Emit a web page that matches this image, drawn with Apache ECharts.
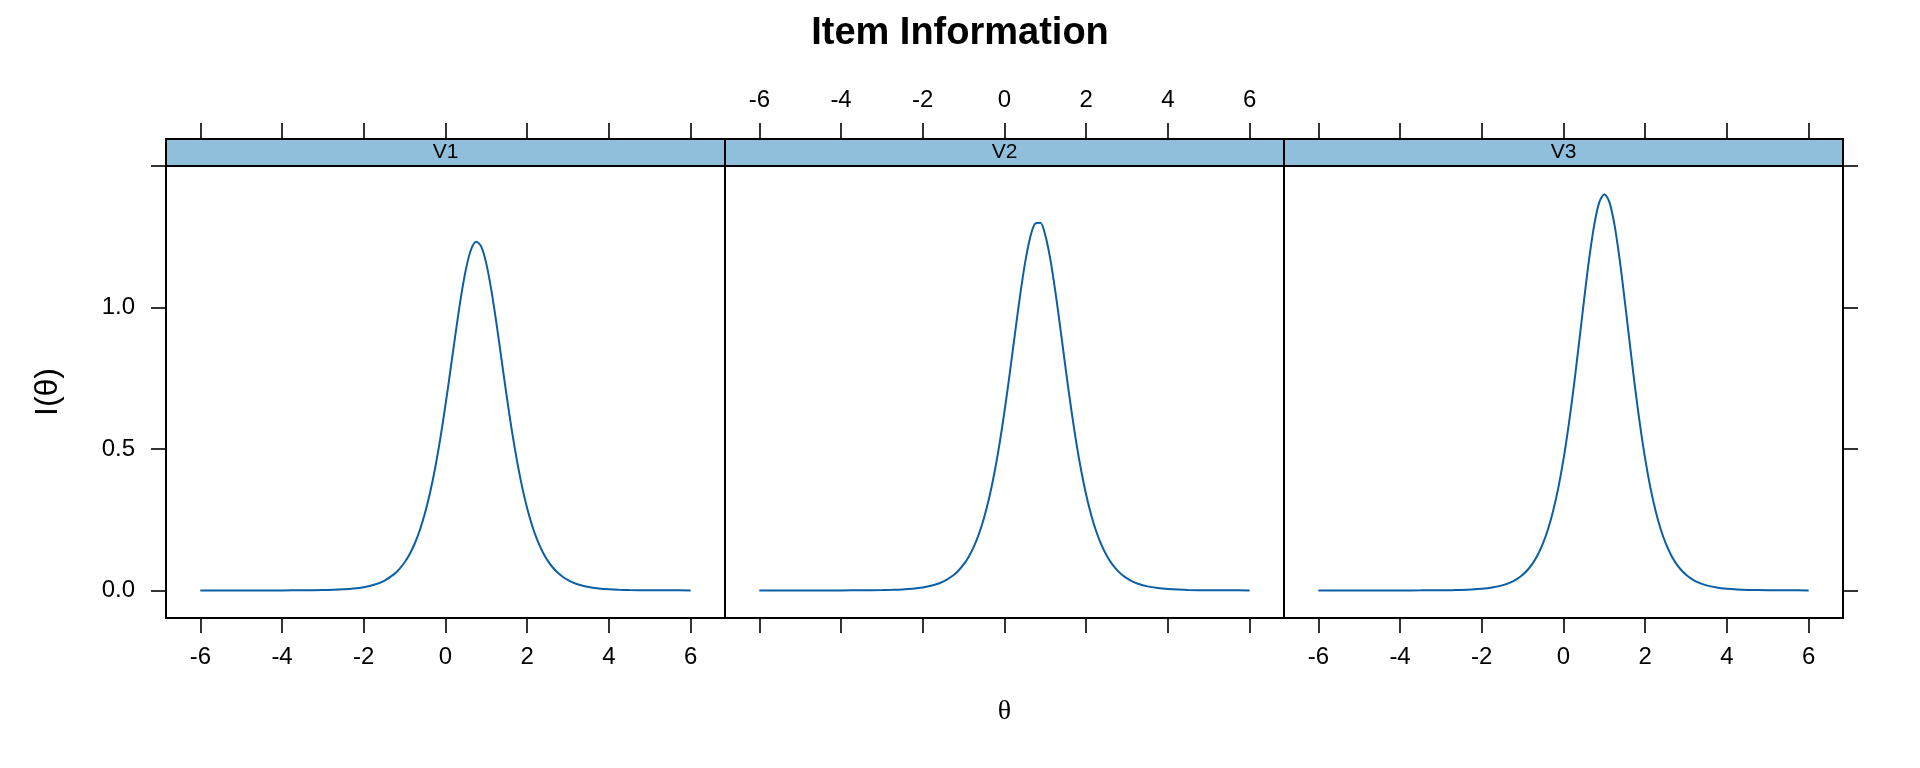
<!DOCTYPE html>
<html>
<head>
<meta charset="utf-8">
<script src="https://cdn.jsdelivr.net/npm/echarts@6/dist/echarts.min.js"></script>
<style>
  html, body { margin: 0; padding: 0; background: #fff; }
  #item-info { width: 1920px; height: 768px; }
</style>
</head>
<body>
<div id="item-info"></div>
<script>
// theta grid (shared by all three items), denser around the peaks
var theta = [-6, -5, -4, -3.5, -3, -2.75, -2.5, -2.25, -2, -1.75, -1.5, -1.25,
  -1.125, -1, -0.875, -0.75, -0.625, -0.5, -0.375, -0.25, -0.125, 0, 0.125, 0.25, 0.375, 0.5, 0.625, 0.75, 0.875,
  1, 1.125, 1.25, 1.375, 1.5, 1.625, 1.75, 1.875, 2, 2.125, 2.25, 2.375, 2.5, 2.625, 2.75, 2.875, 3, 3.125,
  3.25, 3.5, 3.75, 4, 4.25, 4.5, 5, 5.5, 6]

// item information
var infoV1 = [0.0000, 0.0000, 0.0001, 0.0004, 0.0013, 0.0022, 0.0039, 0.0067, 0.0115, 0.0199, 0.0341, 0.0584,
  0.0763, 0.0994, 0.1290, 0.1667, 0.2145, 0.2741, 0.3475, 0.4355, 0.5391, 0.6563, 0.7831, 0.9122, 1.0338, 1.1355, 1.2049, 1.2327, 1.2150,
  1.1541, 1.0586, 0.9406, 0.8120, 0.6838, 0.5640, 0.4578, 0.3658, 0.2891, 0.2267, 0.1766, 0.1367, 0.1054, 0.0810, 0.0621, 0.0475, 0.0363, 0.0277,
  0.0211, 0.0123, 0.0071, 0.0041, 0.0024, 0.0014, 0.0005, 0.0002, 0.0001]
var infoV2 = [0.0000, 0.0000, 0.0001, 0.0004, 0.0012, 0.0020, 0.0035, 0.0061, 0.0105, 0.0181, 0.0313, 0.0537,
  0.0703, 0.0918, 0.1194, 0.1550, 0.2001, 0.2570, 0.3274, 0.4133, 0.5154, 0.6332, 0.7637, 0.9009, 1.0354, 1.1549, 1.2458, 1.2963, 1.2992,
  1.2542, 1.1676, 1.0508, 0.9174, 0.7799, 0.6482, 0.5287, 0.4246, 0.3369, 0.2646, 0.2063, 0.1598, 0.1233, 0.0948, 0.0726, 0.0555, 0.0424, 0.0323,
  0.0246, 0.0143, 0.0083, 0.0048, 0.0028, 0.0016, 0.0005, 0.0002, 0.0001]
var infoV3 = [0.0000, 0.0000, 0.0001, 0.0002, 0.0006, 0.0010, 0.0018, 0.0032, 0.0056, 0.0100, 0.0177, 0.0313,
  0.0416, 0.0552, 0.0730, 0.0965, 0.1272, 0.1670, 0.2182, 0.2831, 0.3643, 0.4638, 0.5824, 0.7188, 0.8686, 1.0229, 1.1688, 1.2904, 1.3715,
  1.4000, 1.3715, 1.2904, 1.1688, 1.0229, 0.8686, 0.7188, 0.5824, 0.4638, 0.3643, 0.2831, 0.2182, 0.1670, 0.1272, 0.0965, 0.0730, 0.0552, 0.0416,
  0.0313, 0.0177, 0.0100, 0.0056, 0.0032, 0.0018, 0.0006, 0.0002, 0.0001]

var panelNames = ['V1', 'V2', 'V3']
var xTicks = [-6, -4, -2, 0, 2, 4, 6]
var yTicks = [0, 0.5, 1, 1.5]
var yLabels = [0, 0.5, 1]

var items = [infoV1, infoV2, infoV3]

var FONT = 'Liberation Sans'
var panelLeft = 166
var panelWidth = 559
var panelTop = 166
var panelHeight = 452
var stripHeight = 27

var chart = echarts.init(document.getElementById('item-info'))

var grids = []
var xAxes = []
var yAxes = []
var series = []
var strips = []

panelNames.forEach(function (name, i) {
  var left = panelLeft + panelWidth * i
  grids.push({
    left: left,
    top: panelTop,
    width: panelWidth,
    height: panelHeight,
    show: true,
    borderColor: '#000',
    borderWidth: 2,
    backgroundColor: 'transparent'
  })
  // bottom axis: labels on panels 1 and 3 (lattice alternation)
  xAxes.push({
    gridIndex: i,
    type: 'value',
    min: -6.84,
    max: 6.84,
    position: 'bottom',
    axisLine: { show: false, onZero: false },
    splitLine: { show: false },
    axisTick: {
      show: true,
      length: 15,
      customValues: xTicks,
      lineStyle: { color: '#000', width: 1.6 }
    },
    axisLabel: {
      show: i !== 1,
      customValues: xTicks,
      margin: 27,
      color: '#000',
      fontFamily: FONT,
      fontSize: 24
    },
    name: i === 1 ? 'θ' : '',
    nameLocation: 'middle',
    nameGap: 80,
    nameTextStyle: { color: '#000', fontFamily: 'Liberation Serif', fontSize: 28 }
  })
  // top axis sits above the strip; labels only on the middle panel
  xAxes.push({
    gridIndex: i,
    type: 'value',
    min: -6.84,
    max: 6.84,
    position: 'top',
    offset: stripHeight,
    axisLine: { show: false, onZero: false },
    splitLine: { show: false },
    axisTick: {
      show: true,
      length: 16,
      customValues: xTicks,
      lineStyle: { color: '#000', width: 1.6 }
    },
    axisLabel: {
      show: i === 1,
      customValues: xTicks,
      margin: 27,
      color: '#000',
      fontFamily: FONT,
      fontSize: 24
    }
  })
  yAxes.push({
    gridIndex: i,
    type: 'value',
    min: -0.0975,
    max: 1.5,
    position: i === 2 ? 'right' : 'left',
    axisLine: { show: false, onZero: false },
    splitLine: { show: false },
    axisTick: {
      show: i !== 1,
      length: 15,
      customValues: yTicks,
      lineStyle: { color: '#000', width: 1.6 }
    },
    axisLabel: {
      show: i === 0,
      customValues: yLabels,
      margin: 31,
      color: '#000',
      fontFamily: FONT,
      fontSize: 24,
      formatter: function (v) { return v.toFixed(1) }
    },
    name: i === 0 ? 'I(θ)' : '',
    nameLocation: 'middle',
    nameGap: 102,
    nameTextStyle: { color: '#000', fontFamily: FONT, fontSize: 32 }
  })
  series.push({
    type: 'line',
    name: name,
    xAxisIndex: i * 2,
    yAxisIndex: i,
    data: theta.map(function (t, j) { return [t, items[i][j]] }),
    showSymbol: false,
    smooth: 0.3,
    lineStyle: { color: '#0b5fa5', width: 2 },
    silent: true
  })
  strips.push({
    type: 'group',
    children: [
      {
        type: 'rect',
        shape: { x: left, y: panelTop - stripHeight, width: panelWidth, height: stripHeight },
        style: { fill: '#8fbfdb', stroke: '#000', lineWidth: 2 }
      },
      {
        type: 'text',
        x: left + panelWidth / 2,
        y: panelTop - stripHeight / 2,
        style: {
          text: name,
          fill: '#000',
          font: '21px "' + FONT + '"',
          align: 'center',
          verticalAlign: 'middle'
        }
      }
    ]
  })
})

chart.setOption({
  backgroundColor: '#fff',
  animation: false,
  title: {
    text: 'Item Information',
    left: 'center',
    top: 10,
    textStyle: { color: '#000', fontFamily: FONT, fontWeight: 'bold', fontSize: 38 }
  },
  grid: grids,
  xAxis: xAxes,
  yAxis: yAxes,
  series: series,
  graphic: strips
})
</script>
</body>
</html>
